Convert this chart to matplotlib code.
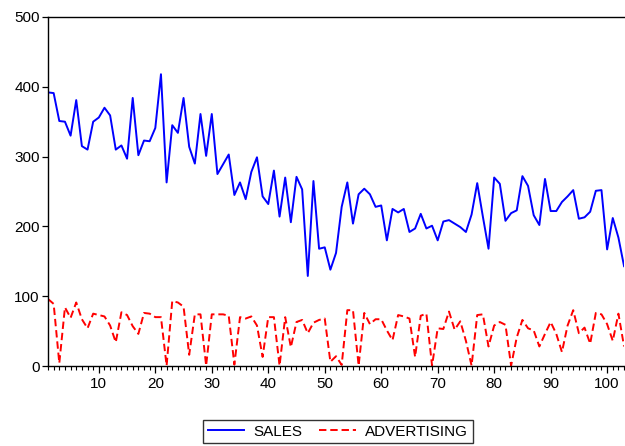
import matplotlib
matplotlib.use("Agg")
import matplotlib.pyplot as plt
from matplotlib.ticker import MultipleLocator

plt.rcParams['font.family'] = ['Liberation Sans', 'DejaVu Sans']

sales = [392, 391, 351, 350, 330, 381, 315, 310, 350, 356, 370, 359, 310, 316, 297, 384,
         302, 323, 322, 341, 418, 263, 345, 334, 384, 314, 290, 361, 301, 361, 275, 289,
         303, 245, 263, 239, 278, 299, 243, 232, 280, 214, 270, 206, 271, 253, 129, 265,
         168, 170, 138, 162, 228, 263, 204, 246, 254, 246, 228, 230, 180, 225, 220, 225,
         192, 197, 218, 197, 201, 180, 207, 209, 204, 199, 192, 217, 262, 214, 168, 270,
         261, 208, 219, 223, 272, 258, 216, 202, 268, 222, 222, 235, 243, 252, 211, 213,
         221, 251, 252, 167, 212, 184, 143]

advertising = [96, 89, 4, 84, 69, 91, 67, 54, 75, 73, 71, 58, 34, 77, 73, 57,
               46, 76, 75, 70, 70, 0.5, 93, 91, 85, 16, 74, 74, 0.5, 74, 74, 74,
               72, 2, 70, 68, 71, 58, 13, 70, 70, 0.5, 70, 27, 63, 66, 47, 62,
               66, 68, 6, 14, 1.5, 80, 80, 0.5, 76, 60, 67, 67, 51, 37, 73, 71,
               68, 13, 72, 75, 0.5, 54, 53, 78, 52, 64, 36, 0.5, 73, 74, 28, 58,
               63, 59, 0.5, 41, 66, 54, 51, 28, 46, 63, 46, 20, 58, 80, 47, 55,
               32, 76, 74, 60, 36, 75, 28]

obs = list(range(1, len(sales) + 1))
series_labels = ["SALES", "ADVERTISING"]

fig = plt.figure(figsize=(6.25, 4.46), dpi=100)
ax = fig.add_axes([48/625, 1 - 366/446, 1 - 48/625 - 0.0015, (366 - 17)/446])

l1, = ax.plot(obs, sales, color=(0, 0, 1), lw=1.4, label=series_labels[0])
l2, = ax.plot(obs, advertising, color=(1, 0, 0), lw=1.4, ls=(0, (3.8, 2)), label=series_labels[1])

ax.set_xlim(1, len(obs))
ax.set_ylim(0, 500)
ax.yaxis.set_major_locator(MultipleLocator(100))
ax.xaxis.set_major_locator(MultipleLocator(10))
ax.xaxis.set_minor_locator(MultipleLocator(1))
ax.spines['right'].set_visible(False)
for s in ['left', 'top', 'bottom']:
    ax.spines[s].set_linewidth(1.0)
    ax.spines[s].set_color('black')
ax.tick_params(axis='y', which='major', direction='out', length=4, width=0.9, labelsize=11, pad=2)
ax.tick_params(axis='x', which='major', direction='out', length=5, width=0.9, labelsize=11, pad=3)
ax.tick_params(axis='x', which='minor', direction='out', length=3, width=0.8)
ax.set_xticks([10, 20, 30, 40, 50, 60, 70, 80, 90, 100])

leg = fig.legend(handles=[l1, l2], labels=series_labels, loc='center',
                 bbox_to_anchor=(338/625, 1 - 431.5/446), ncol=2, fontsize=11,
                 frameon=True, fancybox=False, edgecolor='black', handlelength=2.4,
                 handletextpad=0.6, columnspacing=1.1, borderpad=0.3,
                 borderaxespad=0)
leg.get_frame().set_linewidth(1.0)

fig.savefig("out.png", dpi=100)
